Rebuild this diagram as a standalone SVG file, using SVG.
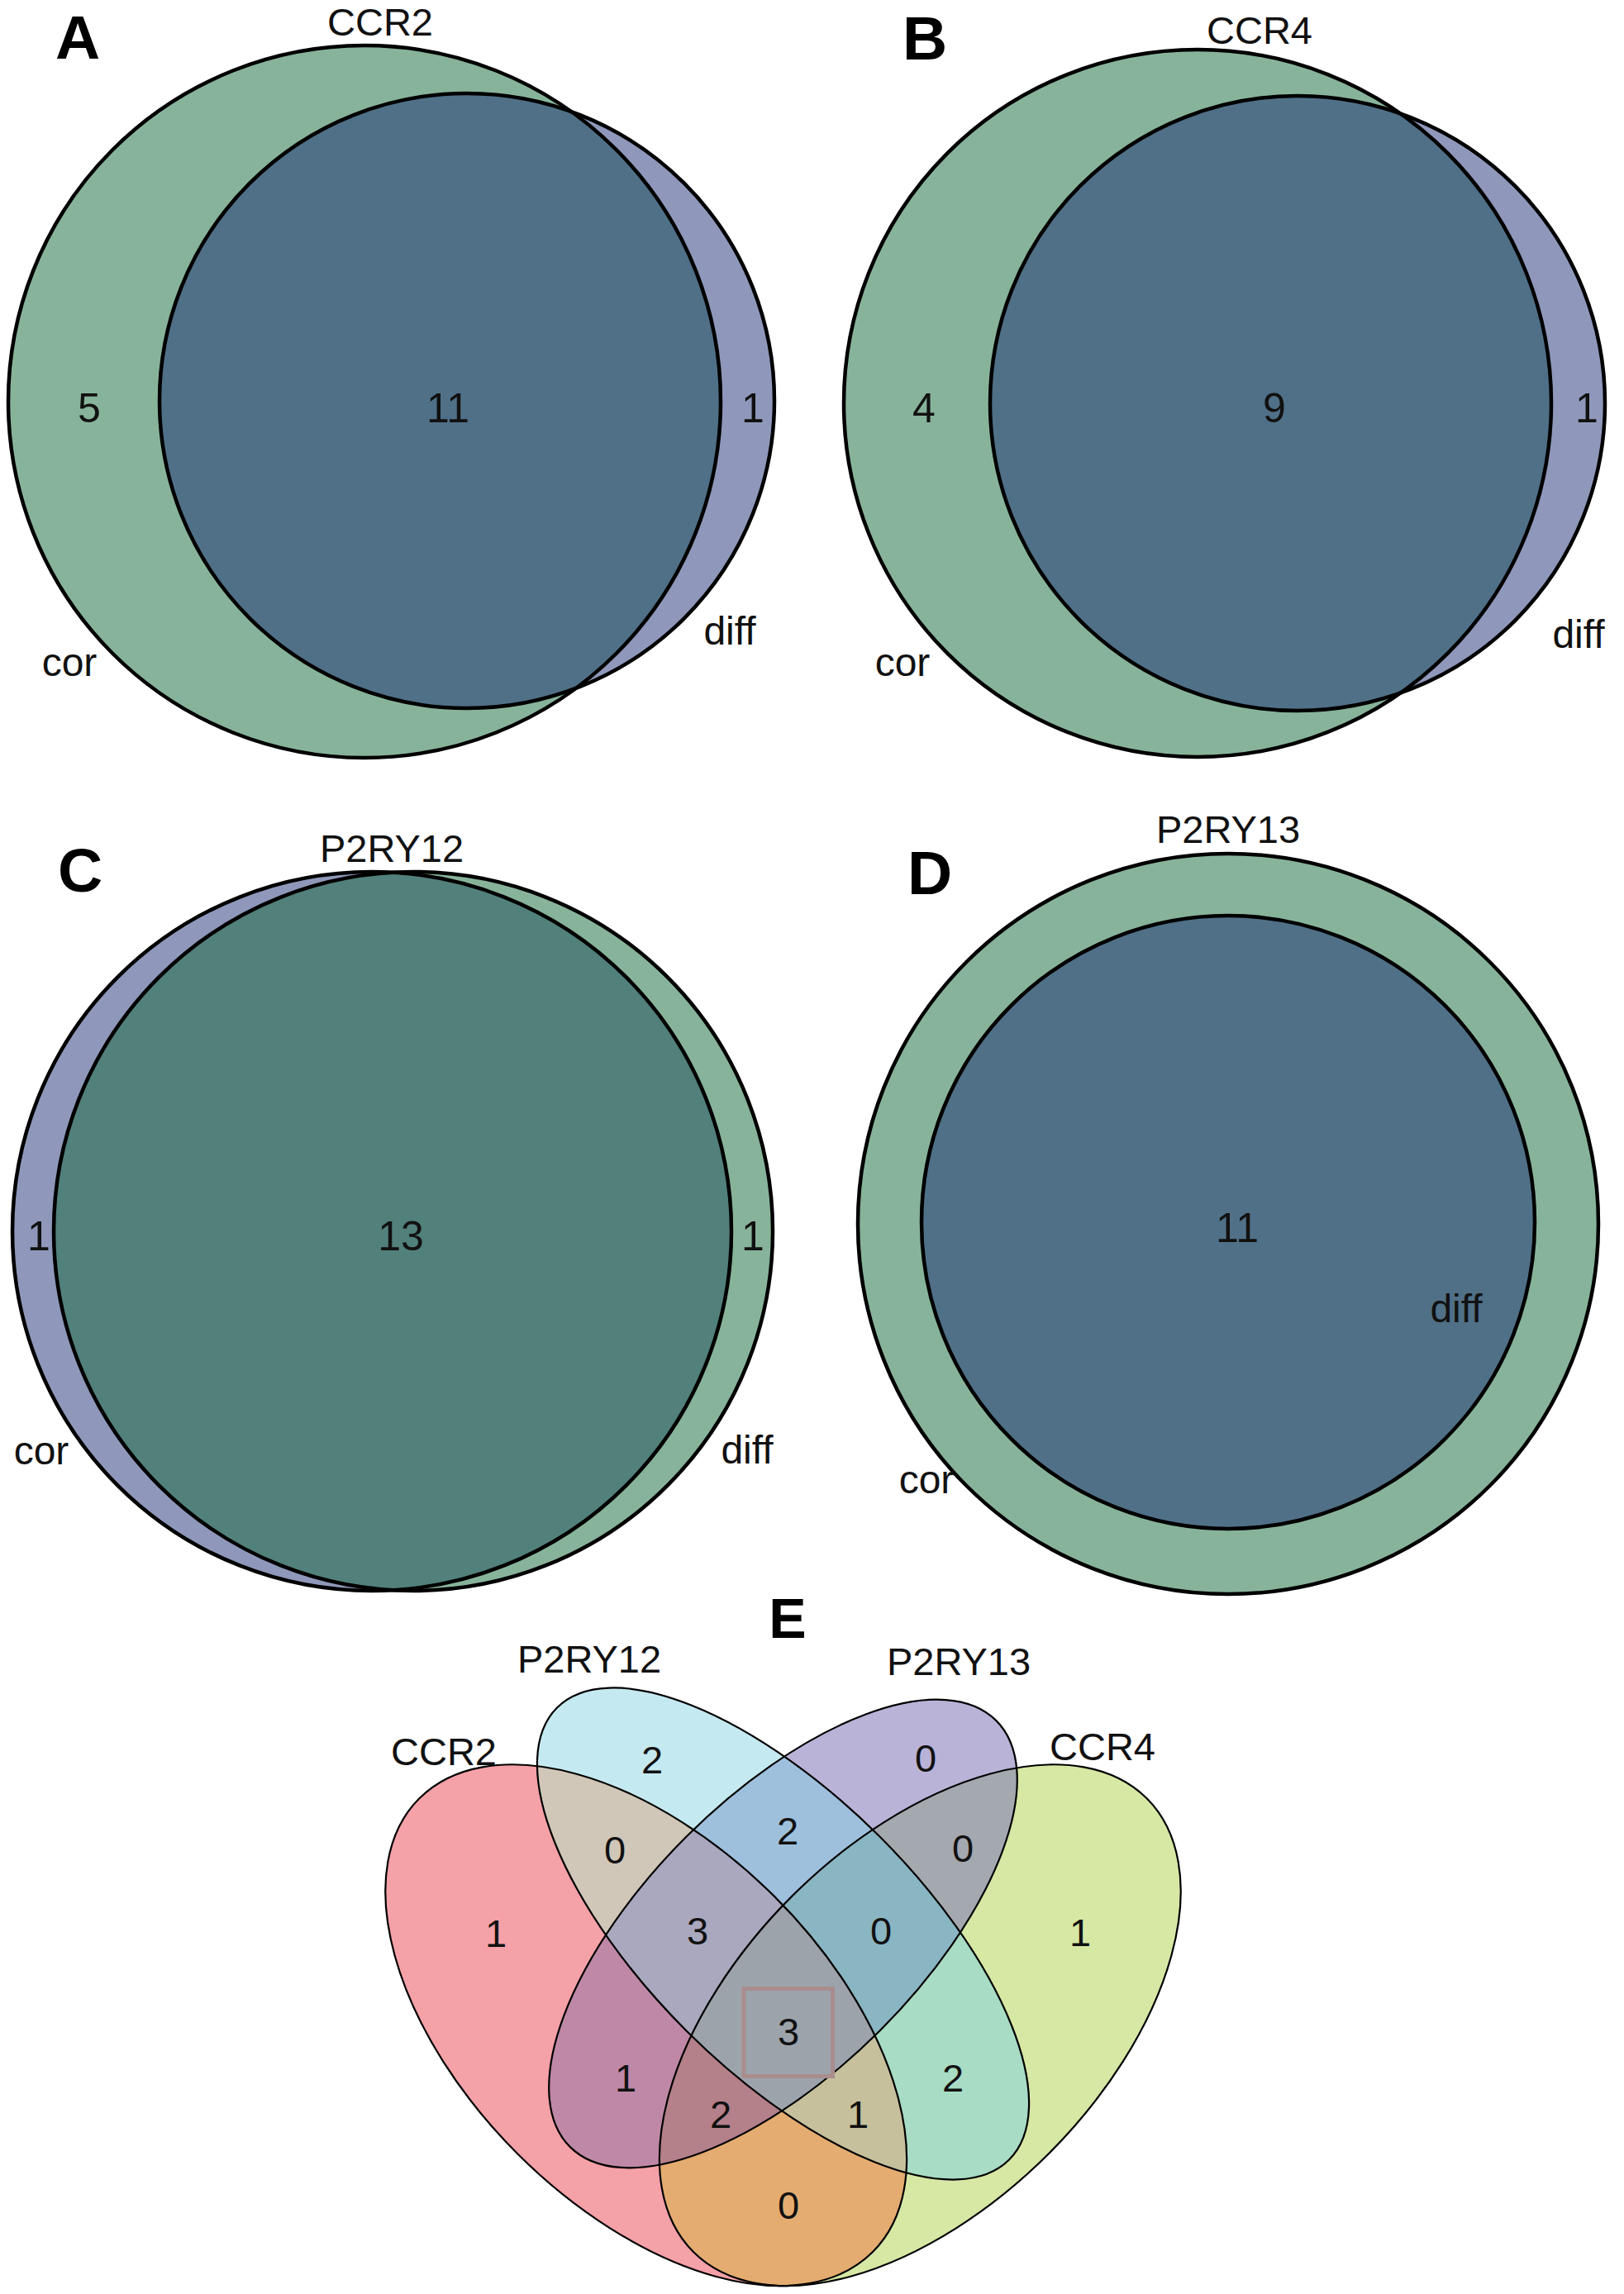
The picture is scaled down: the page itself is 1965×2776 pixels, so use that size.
<svg xmlns="http://www.w3.org/2000/svg" width="1965" height="2776" viewBox="0 0 1965 2776">
<style>
text{font-family:"Liberation Sans",Arial,sans-serif;fill:#111}
.pl{font-size:75px;font-weight:bold;fill:#000}
.pe{font-size:68px;font-weight:bold;fill:#000;text-anchor:middle}
.cat{font-size:47px;text-anchor:middle}
.num{font-size:50px;text-anchor:middle}
.lab{font-size:48px;text-anchor:middle}
.en{font-size:47px;text-anchor:middle}
.ol{fill:none;stroke:#000;stroke-width:4.5}
.eo{fill:none;stroke:#000;stroke-width:2.2}
.grn{fill:#88B39B}
.lav{fill:#8F98BA}
.drk{fill:#507087}
.tea{fill:#52807A}
</style>
<defs>
<clipPath id="cAcor"><circle cx="441" cy="486" r="431"/></clipPath>
<clipPath id="cBcor"><circle cx="1449" cy="488" r="428"/></clipPath>
<clipPath id="cCcor"><circle cx="450" cy="1490" r="435"/></clipPath>
<clipPath id="cE1"><ellipse cx="781.7" cy="2450.7" rx="388" ry="220" transform="rotate(45 781.7 2450.7)"/></clipPath>
<clipPath id="cE2"><ellipse cx="947.5" cy="2340" rx="386.8" ry="165.8" transform="rotate(45 947.5 2340)"/></clipPath>
<clipPath id="cE3"><ellipse cx="947.5" cy="2340" rx="364.7" ry="165.8" transform="rotate(-45 947.5 2340)"/></clipPath>
<clipPath id="cE4"><ellipse cx="1113.3" cy="2450.7" rx="388" ry="220" transform="rotate(-45 1113.3 2450.7)"/></clipPath>
</defs>
<rect width="1965" height="2776" fill="#fff"/>

<g id="panelA">
<g id="A-cor"><circle class="grn" cx="441" cy="486" r="431"/></g>
<g id="A-diff"><circle class="lav" cx="565" cy="485" r="372"/></g>
<circle class="drk" clip-path="url(#cAcor)" cx="565" cy="485" r="372"/>
<circle class="ol" cx="441" cy="486" r="431"/>
<circle class="ol" cx="565" cy="485" r="372"/>
<text class="pl" x="67" y="71">A</text>
<text class="cat" x="460" y="43">CCR2</text>
<text class="num" x="108" y="511">5</text>
<text class="num" x="542" y="511">11</text>
<text class="num" x="911" y="511">1</text>
<text class="lab" x="84" y="818">cor</text>
<text class="lab" x="883" y="780">diff</text>
</g>

<g id="panelB">
<g id="B-cor"><circle class="grn" cx="1449" cy="488" r="428"/></g>
<g id="B-diff"><circle class="lav" cx="1570" cy="488" r="372"/></g>
<circle class="drk" clip-path="url(#cBcor)" cx="1570" cy="488" r="372"/>
<circle class="ol" cx="1449" cy="488" r="428"/>
<circle class="ol" cx="1570" cy="488" r="372"/>
<text class="pl" x="1092" y="72">B</text>
<text class="cat" x="1524" y="53">CCR4</text>
<text class="num" x="1118" y="511">4</text>
<text class="num" x="1542" y="511">9</text>
<text class="num" x="1920" y="511">1</text>
<text class="lab" x="1092" y="818">cor</text>
<text class="lab" x="1910" y="784">diff</text>
</g>

<g id="panelC">
<g id="C-cor"><circle class="lav" cx="450" cy="1490" r="435"/></g>
<g id="C-diff"><circle class="grn" cx="500" cy="1490" r="435"/></g>
<circle class="tea" clip-path="url(#cCcor)" cx="500" cy="1490" r="435"/>
<circle class="ol" cx="450" cy="1490" r="435"/>
<circle class="ol" cx="500" cy="1490" r="435"/>
<text class="pl" x="70" y="1079">C</text>
<text class="cat" x="474" y="1043">P2RY12</text>
<text class="num" x="47" y="1513">1</text>
<text class="num" x="485" y="1513">13</text>
<text class="num" x="911" y="1513">1</text>
<text class="lab" x="50" y="1772">cor</text>
<text class="lab" x="904" y="1771">diff</text>
</g>

<g id="panelD">
<g id="D-cor"><circle class="grn" cx="1486" cy="1481" r="448"/></g>
<g id="D-diff"><circle class="drk" cx="1486" cy="1479" r="371"/></g>
<circle class="ol" cx="1486" cy="1481" r="448"/>
<circle class="ol" cx="1486" cy="1479" r="371"/>
<text class="pl" x="1098" y="1082">D</text>
<text class="cat" x="1486" y="1020">P2RY13</text>
<text class="num" x="1497" y="1503">11</text>
<text class="lab" x="1121" y="1807">cor</text>
<text class="lab" x="1762" y="1600">diff</text>
</g>

<g id="panelE">
<g id="E-CCR2"><ellipse fill="#F4A1A7" cx="781.7" cy="2450.7" rx="388" ry="220" transform="rotate(45 781.7 2450.7)"/></g>
<g id="E-P2RY12"><ellipse fill="#C5E9F0" cx="947.5" cy="2340" rx="386.8" ry="165.8" transform="rotate(45 947.5 2340)"/></g>
<g id="E-P2RY13"><ellipse fill="#BAB3D8" cx="947.5" cy="2340" rx="364.7" ry="165.8" transform="rotate(-45 947.5 2340)"/></g>
<g id="E-CCR4"><ellipse fill="#D6E8A4" cx="1113.3" cy="2450.7" rx="388" ry="220" transform="rotate(-45 1113.3 2450.7)"/></g>
<!-- pairs -->
<g clip-path="url(#cE1)"><rect x="0" y="1900" width="1965" height="876" fill="#D0C7B8" clip-path="url(#cE2)"/></g>
<g clip-path="url(#cE1)"><rect x="0" y="1900" width="1965" height="876" fill="#BF88A6" clip-path="url(#cE3)"/></g>
<g clip-path="url(#cE1)"><rect x="0" y="1900" width="1965" height="876" fill="#E4AC70" clip-path="url(#cE4)"/></g>
<g clip-path="url(#cE2)"><rect x="0" y="1900" width="1965" height="876" fill="#9EC0DC" clip-path="url(#cE3)"/></g>
<g clip-path="url(#cE2)"><rect x="0" y="1900" width="1965" height="876" fill="#A8DCC4" clip-path="url(#cE4)"/></g>
<g clip-path="url(#cE3)"><rect x="0" y="1900" width="1965" height="876" fill="#A4A8AF" clip-path="url(#cE4)"/></g>
<!-- triples -->
<g clip-path="url(#cE1)"><g clip-path="url(#cE2)"><rect x="0" y="1900" width="1965" height="876" fill="#AAA8BE" clip-path="url(#cE3)"/></g></g>
<g clip-path="url(#cE1)"><g clip-path="url(#cE2)"><rect x="0" y="1900" width="1965" height="876" fill="#C6C09C" clip-path="url(#cE4)"/></g></g>
<g clip-path="url(#cE1)"><g clip-path="url(#cE3)"><rect x="0" y="1900" width="1965" height="876" fill="#B4808A" clip-path="url(#cE4)"/></g></g>
<g clip-path="url(#cE2)"><g clip-path="url(#cE3)"><rect x="0" y="1900" width="1965" height="876" fill="#8AB5C3" clip-path="url(#cE4)"/></g></g>
<!-- all four -->
<g clip-path="url(#cE1)"><g clip-path="url(#cE2)"><g clip-path="url(#cE3)"><rect x="0" y="1900" width="1965" height="876" fill="#9DA3AB" clip-path="url(#cE4)"/></g></g></g>
<!-- outlines -->
<ellipse class="eo" cx="781.7" cy="2450.7" rx="388" ry="220" transform="rotate(45 781.7 2450.7)"/>
<ellipse class="eo" cx="947.5" cy="2340" rx="386.8" ry="165.8" transform="rotate(45 947.5 2340)"/>
<ellipse class="eo" cx="947.5" cy="2340" rx="364.7" ry="165.8" transform="rotate(-45 947.5 2340)"/>
<ellipse class="eo" cx="1113.3" cy="2450.7" rx="388" ry="220" transform="rotate(-45 1113.3 2450.7)"/>
<rect x="900" y="2406.5" width="107.5" height="106" fill="none" stroke="#A98D8D" stroke-width="5"/>
<text class="pe" x="953" y="1982">E</text>
<text class="cat" x="537" y="2136">CCR2</text>
<text class="cat" x="713" y="2024">P2RY12</text>
<text class="cat" x="1160" y="2027">P2RY13</text>
<text class="cat" x="1334" y="2130">CCR4</text>
<text class="en" x="789" y="2146">2</text>
<text class="en" x="1120" y="2144">0</text>
<text class="en" x="600" y="2356">1</text>
<text class="en" x="1307" y="2355">1</text>
<text class="en" x="744" y="2255">0</text>
<text class="en" x="953" y="2232">2</text>
<text class="en" x="1165" y="2253">0</text>
<text class="en" x="844" y="2353">3</text>
<text class="en" x="1066" y="2353">0</text>
<text class="en" x="954" y="2475">3</text>
<text class="en" x="757" y="2531">1</text>
<text class="en" x="1153" y="2531">2</text>
<text class="en" x="872" y="2575">2</text>
<text class="en" x="1038" y="2575">1</text>
<text class="en" x="954" y="2685">0</text>
</g>
</svg>
